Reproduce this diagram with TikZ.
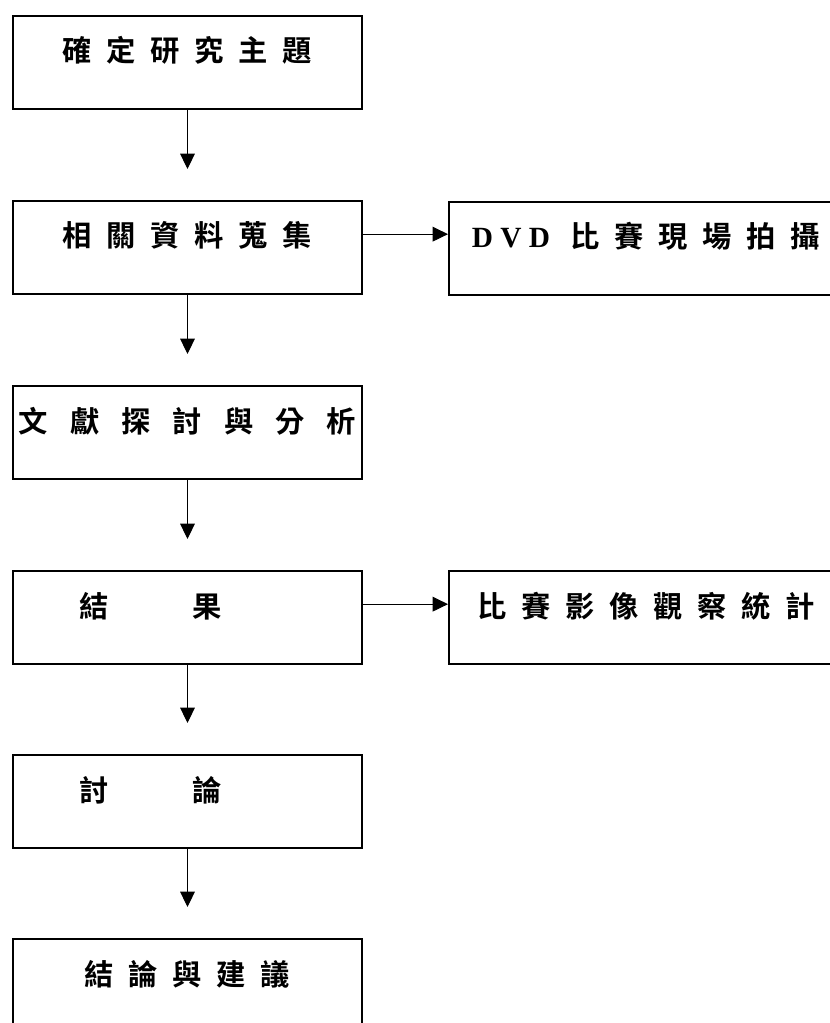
\documentclass[tikz,border=0pt]{standalone}
\usepackage{fontspec}
\setmainfont{Liberation Serif}
\newfontfamily\hei[BoldFont={Noto Sans CJK TC Bold}]{Noto Sans CJK TC}
\usepackage{tikz}
\usetikzlibrary{positioning,arrows.meta}
\newcommand{\sk}{\hspace{.5em}}
\newcommand{\wk}{\hspace{.75em}}

\begin{document}
\begin{tikzpicture}[x=0.75pt,y=-0.75pt]
\useasboundingbox (0,0) rectangle (830,1023);
\tikzstyle{every node}=[font=\hei\bfseries\fontsize{22pt}{26pt}\selectfont]
\tikzstyle{box}=[draw,line width=1.5pt,anchor=north west,inner xsep=0pt,inner ysep=0pt,
  minimum width=261.75pt,text height=34.5pt,text depth=35.25pt]
\tikzstyle{arr}=[line width=0.75pt,-{Triangle[length=11.5pt,width=11pt]}]

% main column
\node[box] (b1) at (12,15) {確\sk 定\sk 研\sk 究\sk 主\sk 題};
\node[box] (b2) at (12,200) {相\sk 關\sk 資\sk 料\sk 蒐\sk 集};
\node[box] (b3) at (12,385) {文\wk 獻\wk 探\wk 討\wk 與\wk 分\wk 析};
\node[box] (b4) at (12,570) {結\hspace{2.85em}果\hspace{2.5em}\mbox{}};
\node[box] (b5) at (12,754) {討\hspace{2.85em}論\hspace{2.5em}\mbox{}};
\node[box] (b6) at (12,938) {結\sk 論\sk 與\sk 建\sk 議};

% side boxes
\node[box,minimum width=295.5pt] (r1) at (448,201)
  {{\rmfamily D\hspace{.25em}V\hspace{.25em}D}\hspace{.7em}比\sk 賽\sk 現\sk 場\sk 拍\sk 攝};
\node[box,minimum width=295.5pt] (r2) at (448,570)
  {比\sk 賽\sk 影\sk 像\sk 觀\sk 察\sk 統\sk 計};

\foreach \a/\b in {b1/b2,b2/b3,b3/b4,b4/b5,b5/b6}
  \draw[arr] (\a.south) -- ([yshift=23.25pt]\b.north);
\draw[arr] ([yshift=10pt]b2.east) -- ([yshift=10pt]b2.east -| r1.west);
\draw[arr] ([yshift=10pt]b4.east) -- ([yshift=10pt]b4.east -| r2.west);
\end{tikzpicture}
\end{document}
